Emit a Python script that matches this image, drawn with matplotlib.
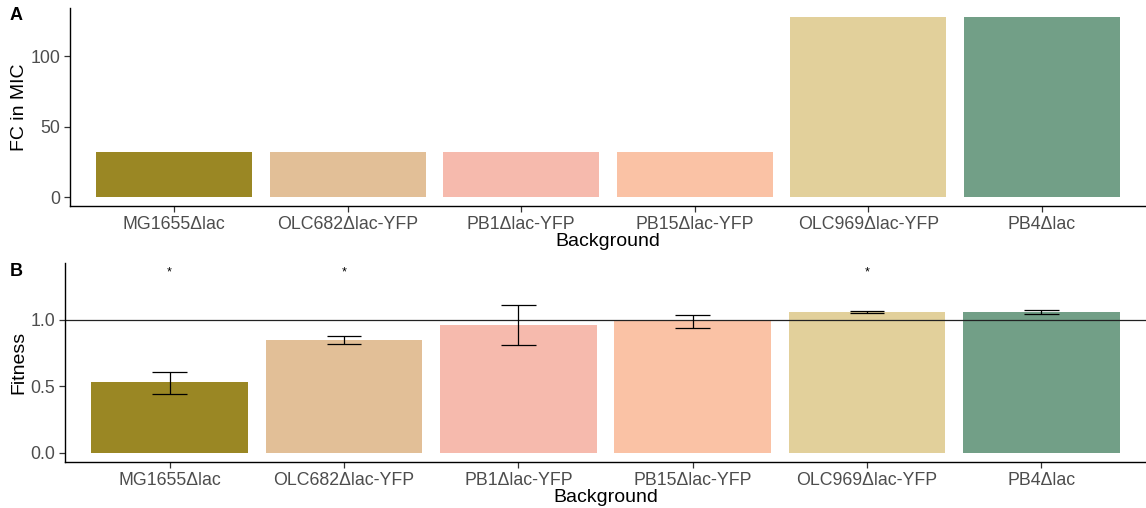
import numpy as np
import matplotlib
matplotlib.use("Agg")
import matplotlib.pyplot as plt

plt.rcParams['font.family'] = ['Liberation Sans', 'DejaVu Sans']

strains = ["MG1655\u0394lac", "OLC682\u0394lac-YFP", "PB1\u0394lac-YFP",
           "PB15\u0394lac-YFP", "OLC969\u0394lac-YFP", "PB4\u0394lac"]
colors = ["#9A8724", "#E2BF97", "#F6BAAD", "#FAC2A5", "#E2D09B", "#729F87"]

fc_mic = [32, 32, 32, 32, 128, 128]

fitness = [0.53, 0.85, 0.96, 0.99, 1.06, 1.06]
fit_lo = [0.44, 0.82, 0.81, 0.94, 1.05, 1.045]
fit_hi = [0.61, 0.88, 1.11, 1.04, 1.07, 1.075]
signif = ["*", "*", "", "", "*", ""]
star_y = 1.36

tick_col = "#4D4D4D"

fig = plt.figure(figsize=(11.46, 5.08), dpi=100)
axA = fig.add_axes([70/1146, 1-206/508, 1-70/1146, 198/508])
axB = fig.add_axes([65/1146, 1-462/508, 1-65/1146, 199/508])

x = np.arange(1, len(strains)+1)

def style(ax):
    for s in ["top", "right"]:
        ax.spines[s].set_visible(False)
    for s in ["left", "bottom"]:
        ax.spines[s].set_color("black")
        ax.spines[s].set_linewidth(1.0)
    ax.tick_params(colors="#333333", labelcolor=tick_col, labelsize=12.8,
                   length=4, width=0.9, pad=3)
    ax.set_xticks(x)
    ax.set_xticklabels(strains)
    ax.set_xlim(0.4, 6.6)
    ax.set_xlabel("Background", fontsize=14, labelpad=0)

# panel A
axA.bar(x, fc_mic, width=0.9, color=colors)
axA.set_ylim(-6.4, 134.4)
axA.set_yticks([0, 50, 100])
axA.set_ylabel("FC in MIC", fontsize=14, labelpad=2)
style(axA)
fig.text(10/1146, 1-15/508, "A", fontsize=13, fontweight="bold", va="center")

# panel B
axB.bar(x, fitness, width=0.9, color=colors)
axB.axhline(1.0, color="#222222", lw=0.9)
axB.vlines(x, fit_lo, fit_hi, color="black", lw=0.9)
axB.hlines(fit_lo, x-0.1, x+0.1, color="black", lw=0.9)
axB.hlines(fit_hi, x-0.1, x+0.1, color="black", lw=0.9)
for xi, s in zip(x, signif):
    if s:
        axB.text(xi, star_y, s, ha="center", va="center", fontsize=9)
axB.set_ylim(-0.068, 1.428)
axB.set_yticks([0.0, 0.5, 1.0])
axB.set_yticklabels(["0.0", "0.5", "1.0"])
axB.set_ylabel("Fitness", fontsize=14, labelpad=2)
style(axB)
fig.text(10/1146, 1-272/508, "B", fontsize=13, fontweight="bold", va="center")

fig.savefig("out.png", dpi=100)
